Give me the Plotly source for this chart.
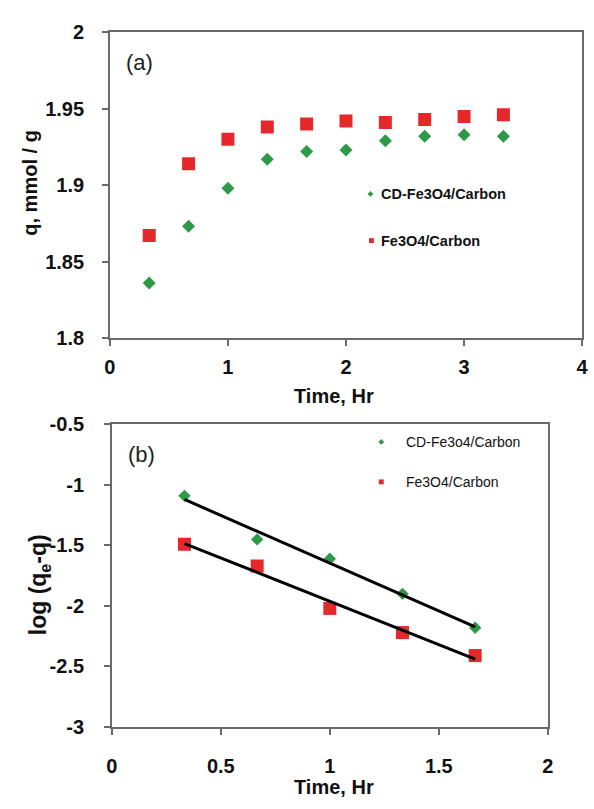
import numpy as np
import plotly.graph_objects as go

# ---- data ----
time_a = [1/3, 2/3, 1.0, 4/3, 5/3, 2.0, 7/3, 8/3, 3.0, 10/3]
q_cd = [1.836, 1.873, 1.898, 1.917, 1.922, 1.923, 1.929, 1.932, 1.933, 1.932]
q_fe = [1.867, 1.914, 1.930, 1.938, 1.940, 1.942, 1.941, 1.943, 1.945, 1.946]

time_b = [1/3, 2/3, 1.0, 4/3, 5/3]
log_cd = [-1.09, -1.45, -1.61, -1.90, -2.18]
log_fe = [-1.49, -1.67, -2.02, -2.22, -2.41]

xa_ticks = [0, 1, 2, 3, 4]
xa_text = ["0", "1", "2", "3", "4"]
ya_ticks = [1.8, 1.85, 1.9, 1.95, 2.0]
ya_text = ["1.8", "1.85", "1.9", "1.95", "2"]
xb_ticks = [0, 0.5, 1, 1.5, 2]
xb_text = ["0", "0.5", "1", "1.5", "2"]
yb_ticks = [-3, -2.5, -2, -1.5, -1, -0.5]
yb_text = ["-3", "-2.5", "-2", "-1.5", "-1", "-0.5"]

label_cd_a = "CD-Fe3O4/Carbon"
label_fe_a = "Fe3O4/Carbon"
label_cd_b = "CD-Fe3o4/Carbon"
label_fe_b = "Fe3O4/Carbon"

# ---- style ----
W, H = 594, 809
RED = "#e5292b"
GREEN = "#2e9a47"
AXIS = "#6a6a6a"
FONT = "Liberation Sans"


def px(x):
    return x / W


def py(y):
    return 1 - y / H


fig = go.Figure()

# panel (a): uptake vs time
fig.add_trace(go.Scatter(x=time_a, y=q_fe, mode="markers", xaxis="x", yaxis="y",
                         marker=dict(symbol="square", size=13, color=RED),
                         name=label_fe_a, showlegend=False))
fig.add_trace(go.Scatter(x=time_a, y=q_cd, mode="markers", xaxis="x", yaxis="y",
                         marker=dict(symbol="diamond", size=10, color=GREEN),
                         name=label_cd_a, showlegend=False))

# panel (b): pseudo-first-order plot with least-squares lines
tb = np.array(time_b)
for vals, color, sym, size, name in [
    (log_fe, RED, "square", 13, label_fe_b),
    (log_cd, GREEN, "diamond", 9.5, label_cd_b),
]:
    fig.add_trace(go.Scatter(x=time_b, y=vals, mode="markers", xaxis="x2", yaxis="y2",
                             marker=dict(symbol=sym, size=size, color=color),
                             name=name, showlegend=False))
for vals in (log_cd, log_fe):
    slope, icpt = np.polyfit(tb, np.array(vals), 1)
    xs = [tb.min(), tb.max()]
    fig.add_trace(go.Scatter(x=xs, y=[slope * v + icpt for v in xs], mode="lines",
                             xaxis="x2", yaxis="y2",
                             line=dict(color="black", width=3), showlegend=False))

tick_font = dict(family=FONT, size=20, color="#111111", weight="bold")
axis_common = dict(showline=True, linecolor=AXIS, linewidth=1.5, mirror=True,
                   ticks="outside", ticklen=6, tickcolor=AXIS, tickwidth=1.5,
                   showgrid=False, zeroline=False, tickfont=tick_font)

fig.update_layout(
    width=W, height=H,
    margin=dict(l=0, r=0, t=0, b=0),
    paper_bgcolor="white", plot_bgcolor="white",
    xaxis=dict(domain=[px(106), px(588)], range=[0, 4], anchor="y",
               tickvals=xa_ticks, ticktext=xa_text, ticklabelstandoff=4, **axis_common),
    yaxis=dict(domain=[py(336), py(22)], range=[1.8, 2.0], anchor="x",
               tickvals=ya_ticks, ticktext=ya_text, ticklabelstandoff=14, **axis_common),
    xaxis2=dict(domain=[px(108), px(553)], range=[0, 2], anchor="y2",
                tickvals=xb_ticks, ticktext=xb_text, ticklabelstandoff=14, **axis_common),
    yaxis2=dict(domain=[py(736), py(425)], range=[-3, -0.5], anchor="x2",
                tickvals=yb_ticks, ticktext=yb_text, ticklabelstandoff=16, **axis_common),
)

title_font = dict(family=FONT, size=20, color="#111111", weight="bold")
ann = []
# axis titles
ann.append(dict(x=px(335), y=py(396), text="Time, Hr", font=title_font))
ann.append(dict(x=px(335), y=py(798), text="Time, Hr", font=title_font))
ann.append(dict(x=px(25), y=py(176), text="q, mmol / g", font=title_font, textangle=-90))
ann.append(dict(x=px(35), y=py(590), text="log (q<sub>e</sub>-q)",
                font=dict(title_font, size=23), textangle=-90))
# panel tags
tag_font = dict(family=FONT, size=22, color="#222222")
ann.append(dict(x=px(136), y=py(53), text="(a)", font=tag_font))
ann.append(dict(x=px(138), y=py(456), text="(b)", font=tag_font))
# legend text
leg_font_a = dict(family=FONT, size=14.5, color="#111111", weight="bold")
leg_font_b = dict(family=FONT, size=14, color="#111111")
for x, y, t, f in [(381, 188, label_cd_a, leg_font_a), (381, 236, label_fe_a, leg_font_a),
                   (406, 443, label_cd_b, leg_font_b), (406, 484, label_fe_b, leg_font_b)]:
    ann.append(dict(x=px(x), y=py(y), text=t, font=f, xanchor="left"))
for a in ann:
    a.setdefault("xanchor", "center")
    a.update(xref="paper", yref="paper", yanchor="middle", showarrow=False)
fig.update_layout(annotations=ann)


# legend keys
def diamond(cx, cy, r):
    return (f"M {px(cx)},{py(cy - r)} L {px(cx + r)},{py(cy)} "
            f"L {px(cx)},{py(cy + r)} L {px(cx - r)},{py(cy)} Z")


shapes = [
    dict(type="path", path=diamond(372, 188, 3), fillcolor=GREEN, line=dict(width=0)),
    dict(type="rect", x0=px(370.5), x1=px(375.5), y0=py(238.5), y1=py(233.5),
         fillcolor=RED, line=dict(width=0)),
    dict(type="path", path=diamond(383, 443, 3), fillcolor=GREEN, line=dict(width=0)),
    dict(type="rect", x0=px(380.5), x1=px(385.5), y0=py(486.5), y1=py(481.5),
         fillcolor=RED, line=dict(width=0)),
]
for s in shapes:
    s.update(xref="paper", yref="paper")
fig.update_layout(shapes=shapes)

fig.write_html("out.html")
